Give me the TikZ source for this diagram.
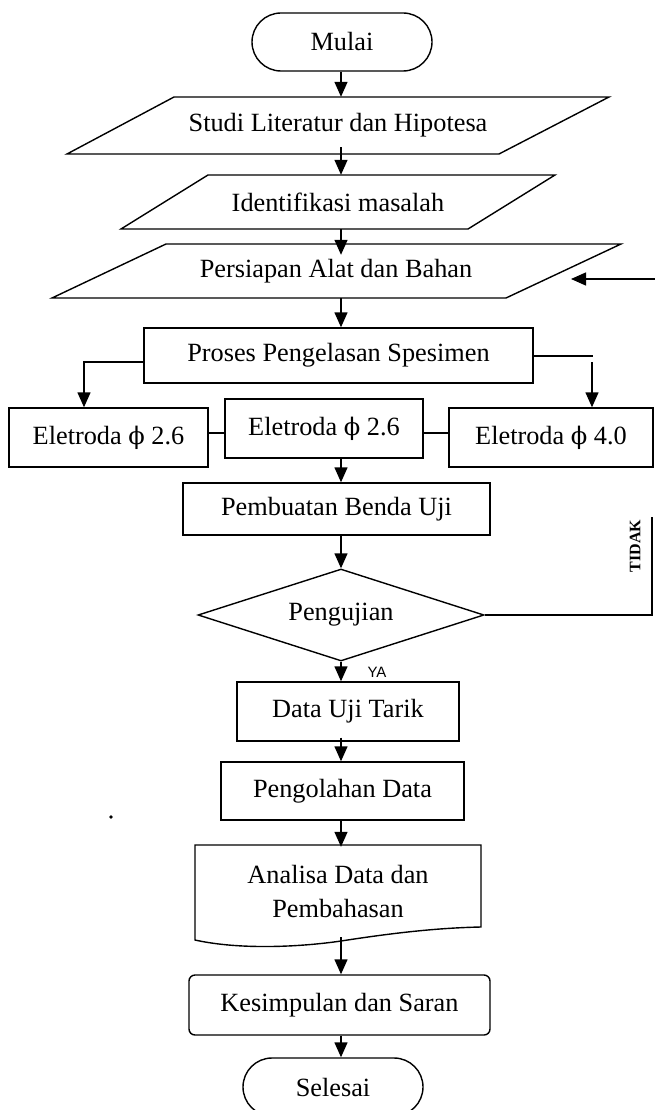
\documentclass[tikz,border=0pt]{standalone}
\usepackage{fontspec}
\setmainfont{Liberation Serif}
\setsansfont{Liberation Sans}
\newfontfamily\phifont[Scale=0.92]{DejaVu Serif}
\newcommand{\phisym}{{\phifont ϕ}}
\usetikzlibrary{arrows.meta,shapes.geometric,calc}
\begin{document}
\begin{tikzpicture}[x=1pt,y=-1pt,
  txt/.style={font=\fontsize{26.3}{34}\selectfont, inner sep=0pt, align=center},
  box/.style={txt, draw, rectangle, line width=1.4pt},
  term/.style={box, rounded corners=29pt},
  ln/.style={line width=1.4pt},
  arr/.style={line width=1.4pt, -{Triangle[width=13pt,length=15pt]}}]
\useasboundingbox (0,0) rectangle (655,1110);
\coordinate (ax) at (341,0);

% Mulai
\node[term, minimum width=180pt, minimum height=58pt] (mulai) at (342,42) {Mulai};

% Studi (parallelogram)
\node[txt, minimum height=57pt, minimum width=300pt] (studi) at (338,125.5) {Studi Literatur dan Hipotesa};
\draw[ln] (174,97) -- (609,97) -- (499,154) -- (67,154) -- cycle;

% Identifikasi
\node[txt, minimum height=54pt, minimum width=250pt] (ident) at (338,202) {Identifikasi masalah};
\draw[ln] (208,175) -- (555,175) -- (468,229) -- (121,229) -- cycle;

% Persiapan
\node[txt, minimum height=54pt, minimum width=300pt] (pers) at (336,271) {Persiapan Alat dan Bahan};
\draw[ln] (166,244) -- (621,244) -- (506,298) -- (52,298) -- cycle;

% Proses
\node[box, minimum width=389pt, minimum height=55pt] (proses) at (338.5,355.5) {Proses Pengelasan Spesimen};

% Eletroda
\node[box, minimum width=199pt, minimum height=59pt] (e1) at (108.5,437.5) {Eletroda \phisym\ 2.6};
\node[box, minimum width=198pt, minimum height=59pt] (e2) at (324,428.5) {Eletroda \phisym\ 2.6};
\node[box, minimum width=204pt, minimum height=59pt] (e3) at (551,437.5) {Eletroda \phisym\ 4.0};

% Pembuatan
\node[box, minimum width=307pt, minimum height=52pt] (pemb) at (336.5,509) {Pembuatan Benda Uji};

% Pengujian
\node[txt, draw, line width=1.4pt, diamond, minimum width=286pt, minimum height=92pt, aspect=3.1] (dia) at (341,615) {Pengujian};

% Data Uji Tarik
\node[box, minimum width=222pt, minimum height=59pt] (data) at (348,711.5) {Data Uji Tarik};

% Pengolahan
\node[box, minimum width=243pt, minimum height=58pt] (peng) at (342.5,791) {Pengolahan Data};

% Analisa (document)
\node[txt, minimum width=286pt, minimum height=92pt] (anal) at (338,891) {Analisa Data dan\\Pembahasan};
\draw[ln] (195,845) -- (481,845) -- (481,927)
  .. controls (430,928) and (380,935) .. (341,941)
  .. controls (300,947) and (240,950) .. (195,940) -- cycle;

% Kesimpulan
\node[box, rounded corners=6pt, minimum width=301pt, minimum height=60pt] (kes) at (339.5,1005) {Kesimpulan dan Saran};

% Selesai
\node[term, minimum width=180pt, minimum height=58pt] (sel) at (333,1087) {Selesai};

% connectors
\draw[arr] (ax |- mulai.south) -- (ax |- studi.north);
\draw[arr] ([yshift=7pt]ax |- studi.south) -- (ax |- ident.north);
\draw[arr] (ax |- ident.south) -- ([yshift=-11pt]ax |- pers.north);
\draw[arr] (ax |- pers.south) -- (ax |- proses.north);

\coordinate (lb) at (84,362);
\draw[arr] ([yshift=-6.5pt]proses.west) -- (lb) -- (lb |- e1.north);
\coordinate (rb1) at (593,356);
\coordinate (rb2) at (592,362);
\draw[ln] (proses.east |- rb1) -- (rb1);
\draw[arr] (rb2) -- (rb2 |- e3.north);

\draw[ln] ([yshift=4.5pt]e1.east) -- ([yshift=4.5pt]e1.east -| e2.west);
\draw[ln] ([yshift=-4.5pt]e2.east) -- ([yshift=-4.5pt]e2.east -| e3.west);

\draw[arr] (ax |- e2.south) -- (ax |- pemb.north);
\draw[arr] (ax |- pemb.south) -- (dia.north);
\draw[arr] (dia.south) -- (ax |- data.north);
\node[font=\sffamily\fontsize{15}{18}\selectfont, inner sep=0pt] (ya) at (377,672) {YA};

\coordinate (t1) at (652,615);
\coordinate (t2) at (652,517);
\draw[ln] (dia.east) -- (t1) -- (t2);
\node[font=\bfseries\fontsize{16}{19}\selectfont, rotate=90, inner sep=0pt] (tidak) at (635,546) {TIDAK};
\coordinate (t3) at (656,279);
\coordinate (t4) at (571,279);
\draw[arr] (t3) -- (t4);

\draw[arr] ([yshift=4pt]ax |- data.south) -- (ax |- peng.north);
\draw[arr] (ax |- peng.south) -- ([yshift=-2pt]ax |- anal.north);
\draw[arr] (ax |- anal.south) -- (ax |- kes.north);
\draw[arr] (ax |- kes.south) -- (ax |- sel.north);

% stray dot
\fill (111,817) circle (1.8pt);
\end{tikzpicture}
\end{document}
